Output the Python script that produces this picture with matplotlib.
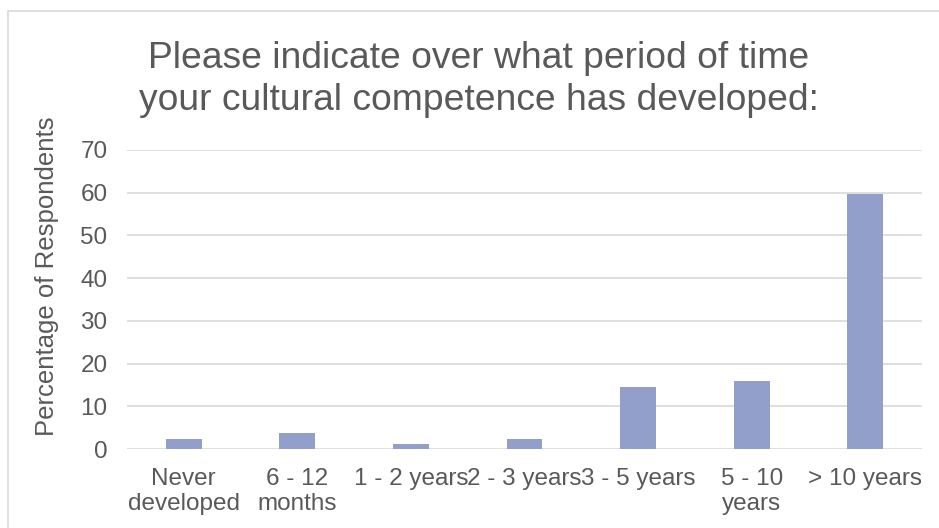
import matplotlib
matplotlib.use("Agg")
import matplotlib.pyplot as plt
from matplotlib.patches import Rectangle

plt.rcParams['font.family'] = ['Liberation Sans', 'DejaVu Sans']

categories = ["Never\ndeveloped", "6 - 12\nmonths", "1 - 2 years", "2 - 3 years",
              "3 - 5 years", "5 - 10\nyears", "> 10 years"]
percentages = [2.4, 3.7, 1.2, 2.4, 14.5, 15.9, 59.8]
y_ticks = [0, 10, 20, 30, 40, 50, 60, 70]

title = "Please indicate over what period of time\nyour cultural competence has developed:"
y_label = "Percentage of Respondents"

TEXT = "#595959"
GRID = "#D9D9D9"
BAR = "#929FCB"

W, H = 939, 528
fig = plt.figure(figsize=(W / 100, H / 100), dpi=100)

# chart border
fig.patches.append(Rectangle((8 / W, -0.2), 1.2, 1.2 - 11 / H,
                             transform=fig.transFigure, fill=False,
                             edgecolor=GRID, linewidth=1.2))

ax = fig.add_axes([127 / W, 1 - 449 / H, (922 - 127) / W, (449 - 150) / H])
x = range(len(categories))
ax.bar(x, percentages, width=0.315, color=BAR, zorder=3)
ax.set_xlim(-0.5, len(categories) - 0.5)
ax.set_ylim(0, 70)
ax.set_yticks(y_ticks)
ax.set_xticks(list(x))
ax.set_xticklabels(categories, color=TEXT, fontsize=17.5, linespacing=1.17)
ax.tick_params(axis='y', colors=TEXT, labelsize=17.5, length=0, pad=14)
ax.tick_params(axis='x', length=0, pad=14)
ax.grid(axis='y', color=GRID, linewidth=1.2, zorder=0)
for s in ax.spines.values():
    s.set_visible(False)

fig.text(479 / W, 1 - 41 / H, title, ha='center', va='top', color=TEXT,
         fontsize=26.8, linespacing=1.25)
fig.text(47 / W, 1 - 276 / H, y_label, rotation=90, ha='center', va='center',
         color=TEXT, fontsize=18.5)

fig.savefig("out.png", dpi=100)
